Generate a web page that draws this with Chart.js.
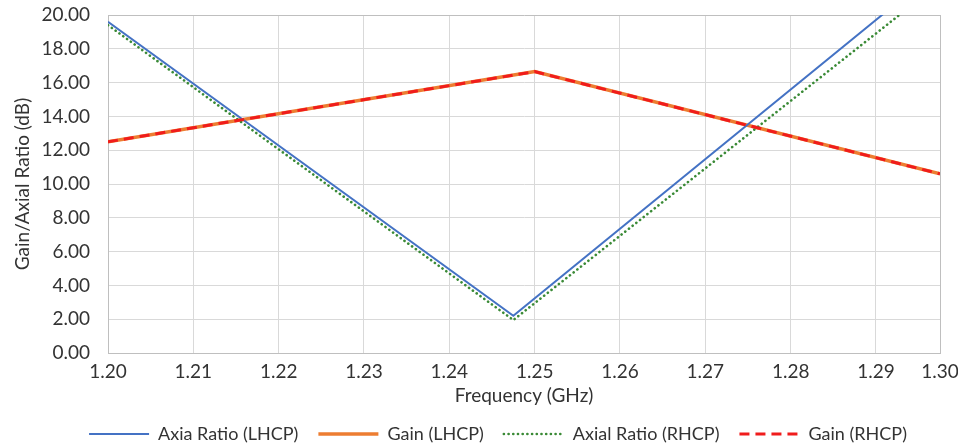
<!DOCTYPE html>
<html>
<head>
<meta charset="utf-8">
<script src="https://cdn.jsdelivr.net/npm/chart.js@4.4.1/dist/chart.umd.min.js"></script>
<style>
    html, body { margin: 0; padding: 0; background: #fff; }
    #wrap { width: 958px; height: 445px; }
</style>
</head>
<body>
<div id="wrap"><canvas id="chart" width="958" height="445"></canvas></div>
<script>
// values
const freqBreaks = [1.20, 1.2475, 1.2975];
const arLhcp = [19.6, 2.2, 22.8];
const arRhcp = [19.4, 1.95, 21.9];
const gainFreq = [1.20, 1.25, 1.2975];
const gainLhcp = [12.5, 16.65, 10.6];
const gainRhcp = [12.5, 16.65, 10.6];

const xTickValues = [1.20, 1.21, 1.22, 1.23, 1.24, 1.25, 1.26, 1.27, 1.28, 1.29, 1.2975];
const xTickLabels = ['1.20', '1.21', '1.22', '1.23', '1.24', '1.25', '1.26', '1.27', '1.28', '1.29', '1.30'];
const yTickValues = [0, 2, 4, 6, 8, 10, 12, 14, 16, 18, 20];

const FONT = 'Lato';
const TEXT = '#333333';
const GRID = '#d9d9d9';
const FRAME = '#bfbfbf';

function toPoints(xs, ys) {
    return xs.map((x, i) => ({ x: x, y: ys[i] }));
}

// nudge the legend a little right, the way Excel placed it
const legendShift = {
    id: 'legendShift',
    afterLayout(chart) {
        chart.legend.left += 28;
        chart.legend.right += 28;
    }
};

const ctx = document.getElementById('chart').getContext('2d');
new Chart(ctx, {
    type: 'line',
    data: {
        datasets: [
            {
                label: 'Axia Ratio (LHCP)',
                data: toPoints(freqBreaks, arLhcp),
                borderColor: '#4472c4',
                backgroundColor: '#4472c4',
                borderWidth: 2,
                order: 1
            },
            {
                label: 'Gain (LHCP)',
                data: toPoints(gainFreq, gainLhcp),
                borderColor: '#ed7d31',
                backgroundColor: '#ed7d31',
                borderWidth: 3.5,
                order: 3
            },
            {
                label: 'Axial Ratio (RHCP)',
                data: toPoints(freqBreaks, arRhcp),
                borderColor: '#3a8a36',
                backgroundColor: '#3a8a36',
                borderWidth: 2.6,
                borderDash: [0.1, 4.6],
                borderCapStyle: 'round',
                order: 2
            },
            {
                label: 'Gain (RHCP)',
                data: toPoints(gainFreq, gainRhcp),
                borderColor: '#f01c1c',
                backgroundColor: '#f01c1c',
                borderWidth: 3,
                borderDash: [10, 6],
                order: 0
            }
        ]
    },
    plugins: [legendShift],
    options: {
        responsive: false,
        animation: false,
        layout: { padding: { top: 15, right: 18, left: 0, bottom: -8 } },
        elements: {
            point: { radius: 0 },
            line: { tension: 0 }
        },
        plugins: {
            tooltip: { enabled: false },
            legend: {
                position: 'bottom',
                labels: {
                    usePointStyle: true,
                    pointStyle: 'line',
                    pointStyleWidth: 60,
                    padding: 20,
                    color: TEXT,
                    font: { family: FONT, size: 18 },
                    sort: (a, b) => a.datasetIndex - b.datasetIndex,
                    generateLabels: chart => {
                        const items = Chart.defaults.plugins.legend.labels.generateLabels(chart);
                        items.forEach(item => {
                            const ds = chart.data.datasets[item.datasetIndex];
                            item.strokeStyle = ds.borderColor;
                            item.lineWidth = ds.borderWidth;
                            item.lineDash = ds.borderDash || [];
                            item.lineCap = ds.borderCapStyle || 'butt';
                        });
                        return items;
                    }
                }
            }
        },
        scales: {
            x: {
                type: 'linear',
                min: 1.20,
                max: 1.2975,
                afterBuildTicks: scale => {
                    scale.ticks = xTickValues.map(v => ({ value: v }));
                },
                afterFit: scale => {
                    scale.height = 52;
                    scale.paddingRight = 0;
                },
                ticks: {
                    color: TEXT,
                    font: { family: FONT, size: 19 },
                    padding: 7,
                    maxRotation: 0,
                    autoSkip: false,
                    callback: (value, index) => xTickLabels[index]
                },
                grid: {
                    drawTicks: false,
                    color: c => (c.index === xTickValues.length - 1 ? FRAME : GRID)
                },
                border: { color: FRAME },
                title: {
                    display: true,
                    text: 'Frequency (GHz)',
                    color: TEXT,
                    font: { family: FONT, size: 19 },
                    padding: { top: 0, bottom: -2 }
                }
            },
            y: {
                min: 0,
                max: 20,
                afterBuildTicks: scale => {
                    scale.ticks = yTickValues.map(v => ({ value: v }));
                },
                afterFit: scale => {
                    scale.width = 108;
                    scale.paddingTop = 0;
                },
                ticks: {
                    color: TEXT,
                    font: { family: FONT, size: 19 },
                    padding: 18,
                    callback: value => value.toFixed(2)
                },
                grid: {
                    drawTicks: false,
                    color: c => (c.tick && c.tick.value === 20 ? FRAME : GRID)
                },
                border: { color: FRAME },
                title: {
                    display: true,
                    text: 'Gain/Axial Ratio (dB)',
                    color: TEXT,
                    font: { family: FONT, size: 19 },
                    padding: { top: 11, bottom: 0 }
                }
            }
        }
    }
});
</script>
</body>
</html>
